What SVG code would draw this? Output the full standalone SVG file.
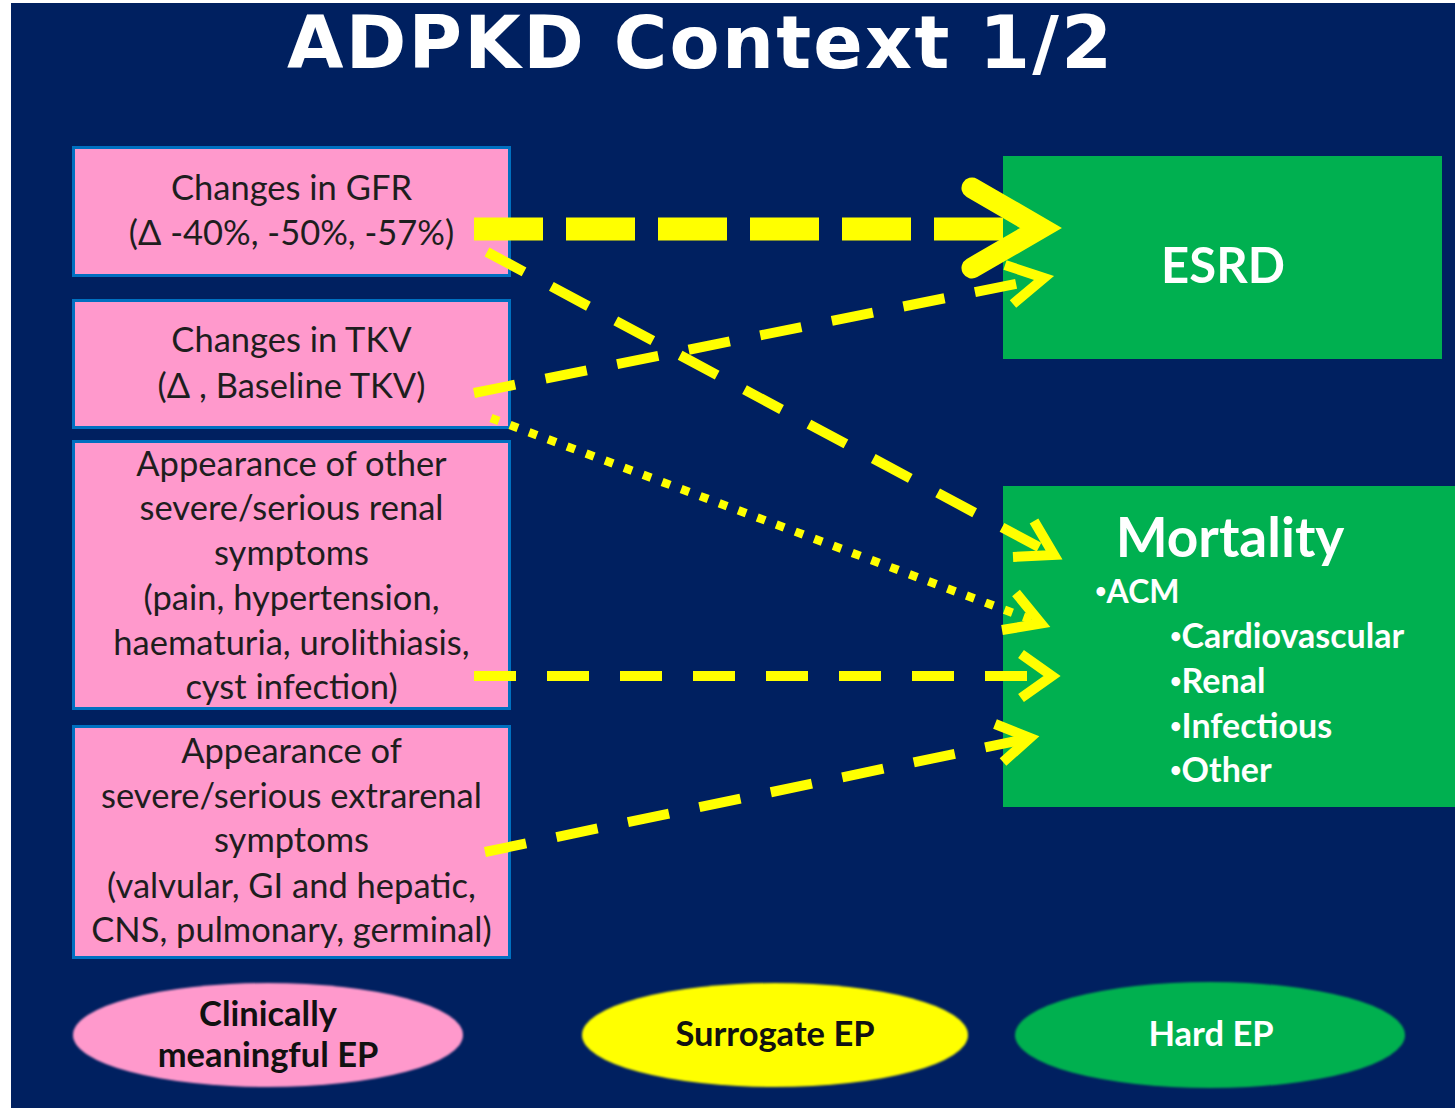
<svg xmlns="http://www.w3.org/2000/svg" width="1455" height="1108" viewBox="0 0 1455 1108">
  <defs>
    <style>
      .pink { fill: #FF99CC; stroke: #0070C0; stroke-width: 3; }
      .green { fill: #00B050; }
      .ptxt { font-family: Lato, "Liberation Sans", sans-serif; font-size: 34.5px; fill: #1E1E1E; text-anchor: middle; }
      .gtxt { font-family: Lato, "Liberation Sans", sans-serif; font-weight: bold; fill: #FFFFFF; }
      .ltxt { font-family: Lato, "Liberation Sans", sans-serif; font-weight: bold; font-size: 34.5px; text-anchor: middle; }
      .bul { font-size: 20px; }
      .thin { fill: none; stroke: #FFFF00; stroke-width: 10; stroke-dasharray: 42 31; }
      .head { fill: none; stroke: #FFFF00; stroke-width: 10; stroke-linejoin: miter; stroke-miterlimit: 10; }
    </style>
    <filter id="soft" x="-5%" y="-10%" width="110%" height="120%">
      <feGaussianBlur stdDeviation="1.2"/>
    </filter>
  </defs>

  <rect x="0" y="0" width="1455" height="1108" fill="#FFFFFF"/>
  <rect x="11" y="3" width="1444" height="1105" fill="#002060"/>

  <text x="287" y="68" font-family="'DejaVu Sans', Verdana, sans-serif" font-weight="bold" font-size="73" fill="#FFFFFF" textLength="825" lengthAdjust="spacing">ADPKD Context 1/2</text>

  <g id="node-gfr">
    <rect class="pink" x="73.5" y="147.5" width="436" height="128"/>
    <text class="ptxt" x="291.5" y="200">Changes in GFR</text>
    <text class="ptxt" x="291.5" y="245">(Δ -40%, -50%, -57%)</text>
  </g>
  <g id="node-tkv">
    <rect class="pink" x="73.5" y="300.5" width="436" height="127"/>
    <text class="ptxt" x="291.5" y="352">Changes in TKV</text>
    <text class="ptxt" x="291.5" y="398">(Δ , Baseline TKV)</text>
  </g>
  <g id="node-renal">
    <rect class="pink" x="73.5" y="441.5" width="436" height="267"/>
    <text class="ptxt" x="291.5" y="476">Appearance of other</text>
    <text class="ptxt" x="291.5" y="520">severe/serious renal</text>
    <text class="ptxt" x="291.5" y="565">symptoms</text>
    <text class="ptxt" x="291.5" y="610">(pain, hypertension,</text>
    <text class="ptxt" x="291.5" y="655">haematuria, urolithiasis,</text>
    <text class="ptxt" x="291.5" y="699">cyst infection)</text>
  </g>
  <g id="node-extrarenal">
    <rect class="pink" x="73.5" y="726.5" width="436" height="231"/>
    <text class="ptxt" x="291.5" y="763">Appearance of</text>
    <text class="ptxt" x="291.5" y="808">severe/serious extrarenal</text>
    <text class="ptxt" x="291.5" y="852">symptoms</text>
    <text class="ptxt" x="291.5" y="898">(valvular, GI and hepatic,</text>
    <text class="ptxt" x="291.5" y="942">CNS, pulmonary, germinal)</text>
  </g>

  <g id="node-esrd">
    <rect class="green" x="1003" y="156" width="439" height="203"/>
    <text class="gtxt" x="1223" y="283" font-size="49" text-anchor="middle">ESRD</text>
  </g>
  <g id="node-mortality">
    <rect class="green" x="1003" y="486" width="452" height="321"/>
    <text class="gtxt" x="1230" y="557" font-size="55" text-anchor="middle">Mortality</text>
    <text class="gtxt" x="1095" y="603" font-size="32"><tspan class="bul" dy="-5">•</tspan><tspan dy="5">ACM</tspan></text>
    <text class="gtxt" x="1170" y="648" font-size="34"><tspan class="bul" dy="-5">•</tspan><tspan dy="5">Cardiovascular</tspan></text>
    <text class="gtxt" x="1170" y="693" font-size="34"><tspan class="bul" dy="-5">•</tspan><tspan dy="5">Renal</tspan></text>
    <text class="gtxt" x="1170" y="738" font-size="34"><tspan class="bul" dy="-5">•</tspan><tspan dy="5">Infectious</tspan></text>
    <text class="gtxt" x="1170" y="782" font-size="34"><tspan class="bul" dy="-5">•</tspan><tspan dy="5">Other</tspan></text>
  </g>

  <g id="connectors">
    <line x1="474" y1="229" x2="1005" y2="229" stroke="#FFFF00" stroke-width="23" stroke-dasharray="69 23"/>
    <polyline points="972,188 1041,228 972,268" fill="none" stroke="#FFFF00" stroke-width="21" stroke-linecap="round" stroke-linejoin="miter"/>

    <line class="thin" x1="487" y1="252" x2="1050" y2="553"/>
    <polyline class="head" points="1034,521 1054,555 1013,557"/>

    <line class="thin" x1="474" y1="393" x2="1040" y2="279"/>
    <polyline class="head" points="1005,265 1044,278 1013,304"/>

    <line x1="491" y1="418" x2="1036" y2="621.5" stroke="#FFFF00" stroke-width="8.5" stroke-dasharray="8.5 11.8"/>
    <polyline class="head" points="1016,593 1041,623.5 1002,630"/>

    <line class="thin" x1="474" y1="676" x2="1050" y2="676"/>
    <polyline class="head" points="1021,654 1052,676 1021,698"/>

    <line class="thin" x1="485" y1="852" x2="1028" y2="738.5"/>
    <polyline class="head" points="995,724 1030,738 1003,762"/>
  </g>

  <g id="legend-clinical">
    <ellipse cx="268" cy="1035" rx="195" ry="52" fill="#FF99CC" filter="url(#soft)"/>
    <text class="ltxt" x="268" y="1026" fill="#111111">Clinically</text>
    <text class="ltxt" x="268" y="1067" fill="#111111">meaningful EP</text>
  </g>
  <g id="legend-surrogate">
    <ellipse cx="775" cy="1035" rx="193" ry="52" fill="#FFFF00" filter="url(#soft)"/>
    <text class="ltxt" x="775" y="1046" fill="#111111">Surrogate EP</text>
  </g>
  <g id="legend-hard">
    <ellipse cx="1210" cy="1035" rx="195" ry="53" fill="#00B050" filter="url(#soft)"/>
    <text class="ltxt" x="1211" y="1046" fill="#FFFFFF">Hard EP</text>
  </g>
</svg>
